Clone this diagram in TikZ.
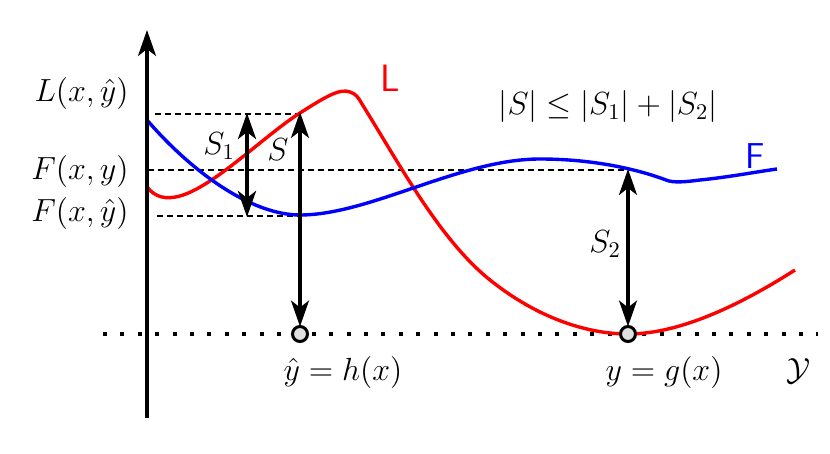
\RequirePackage{fix-cm}
\documentclass[tikz,border=0pt]{standalone}
\usetikzlibrary{arrows.meta}
\begin{document}
\begin{tikzpicture}[x=0.5pt,y=-0.5pt,
  every node/.style={font=\fontsize{16}{19}\selectfont, inner sep=0pt},
  tip/.style={-{Stealth[length=13pt,width=9pt,inset=3.5pt]}},
  dtip/.style={{Stealth[length=13pt,width=9pt,inset=3.5pt]}-{Stealth[length=13pt,width=9pt,inset=3.5pt]}},
  axisline/.style={line width=1.6pt},
  guide/.style={line width=1pt, dash pattern=on 3pt off 2pt},
  dotline/.style={line width=2pt, dash pattern=on 2pt off 6.7pt},
  curveL/.style={red, line width=1.7pt},
  curveF/.style={blue, line width=1.7pt},
  pt/.style={circle, draw=black, fill=black!12, line width=1.5pt, minimum size=7.5pt, inner sep=0pt, outer sep=0pt}
]
\useasboundingbox (0,0) rectangle (830,454);

% dotted Y line
\coordinate (yl0) at (103,334);
\coordinate (yl1) at (818,334);
\draw[dotline] (yl0) -- (yl1);

% dashed guides
\coordinate (gL0) at (155,114);
\coordinate (gL1) at (300,114);
\coordinate (gF0) at (148,170);
\coordinate (gF1) at (628,170);
\coordinate (gH0) at (157,216);
\coordinate (gH1) at (300,216);
\draw[guide] (gL0) -- (gL1);
\draw[guide] (gF0) -- (gF1);
\draw[guide] (gH0) -- (gH1);

% curve L
\draw[curveL] (147,187) .. controls (155,197) and (165,200) .. (180,196)
  .. controls (215,186) and (265,135) .. (300,113)
  .. controls (325,97) and (340,88) .. (350,92)
  .. controls (356,94) and (358,97) .. (362,104)
  .. controls (400,165) and (440,240) .. (490,280)
  .. controls (540,320) and (590,334) .. (628,334)
  .. controls (680,334) and (740,305) .. (795,270);
% curve F
\draw[curveF] (147,120) .. controls (190,170) and (250,215) .. (300,215)
  .. controls (370,215) and (460,159) .. (540,159)
  .. controls (600,159) and (645,172) .. (666,180)
  .. controls (673,183) and (685,182) .. (700,180)
  .. controls (730,177) and (755,172) .. (777,169);

% vertical axis
\coordinate (ax0) at (147,418);
\coordinate (ax1) at (147,30);
\draw[axisline, tip] (ax0) -- (ax1);

% points on Y
\node[pt] (yh) at (300,334) {};
\node[pt] (yg) at (628,334) {};

% arrows
\coordinate (s1a) at (247,113);
\coordinate (s1b) at (247,217);
\draw[line width=2.1pt, dtip] (s1b) -- (s1a);
\coordinate (sa) at (300,112);
\draw[axisline, dtip] (yh.north) -- (sa);
\coordinate (s2a) at (628,169);
\draw[axisline, dtip] (yg.north) -- (s2a);

% labels
\node[anchor=base east] (lL) at (129,102) {$L(x,\hat{y})$};
\node[anchor=base east] (lFy) at (129,180) {$F(x,y)$};
\node[anchor=base east] (lFh) at (129,222) {$F(x,\hat{y})$};
\node[anchor=base] (lS1) at (219,155) {$S_1$};
\node[anchor=base] (lS) at (278,161) {$S$};
\node[anchor=base] (lS2) at (605,253) {$S_2$};
\node[anchor=base] (ineq) at (608,115) {$|S|\leq|S_1|+|S_2|$};
\node[anchor=base, text=red, font=\fontsize{19}{22}\selectfont\sffamily] (nL) at (390,92) {L};
\node[anchor=base, text=blue, font=\fontsize{18}{21}\selectfont\sffamily] (nF) at (755,169) {F};
\node[anchor=base] (lh) at (343,380) {$\hat{y}=h(x)$};
\node[anchor=base] (lg) at (664,380) {$y=g(x)$};
\node[anchor=base] (lY) at (799,380) {$\mathcal{Y}$};
\end{tikzpicture}
\end{document}
